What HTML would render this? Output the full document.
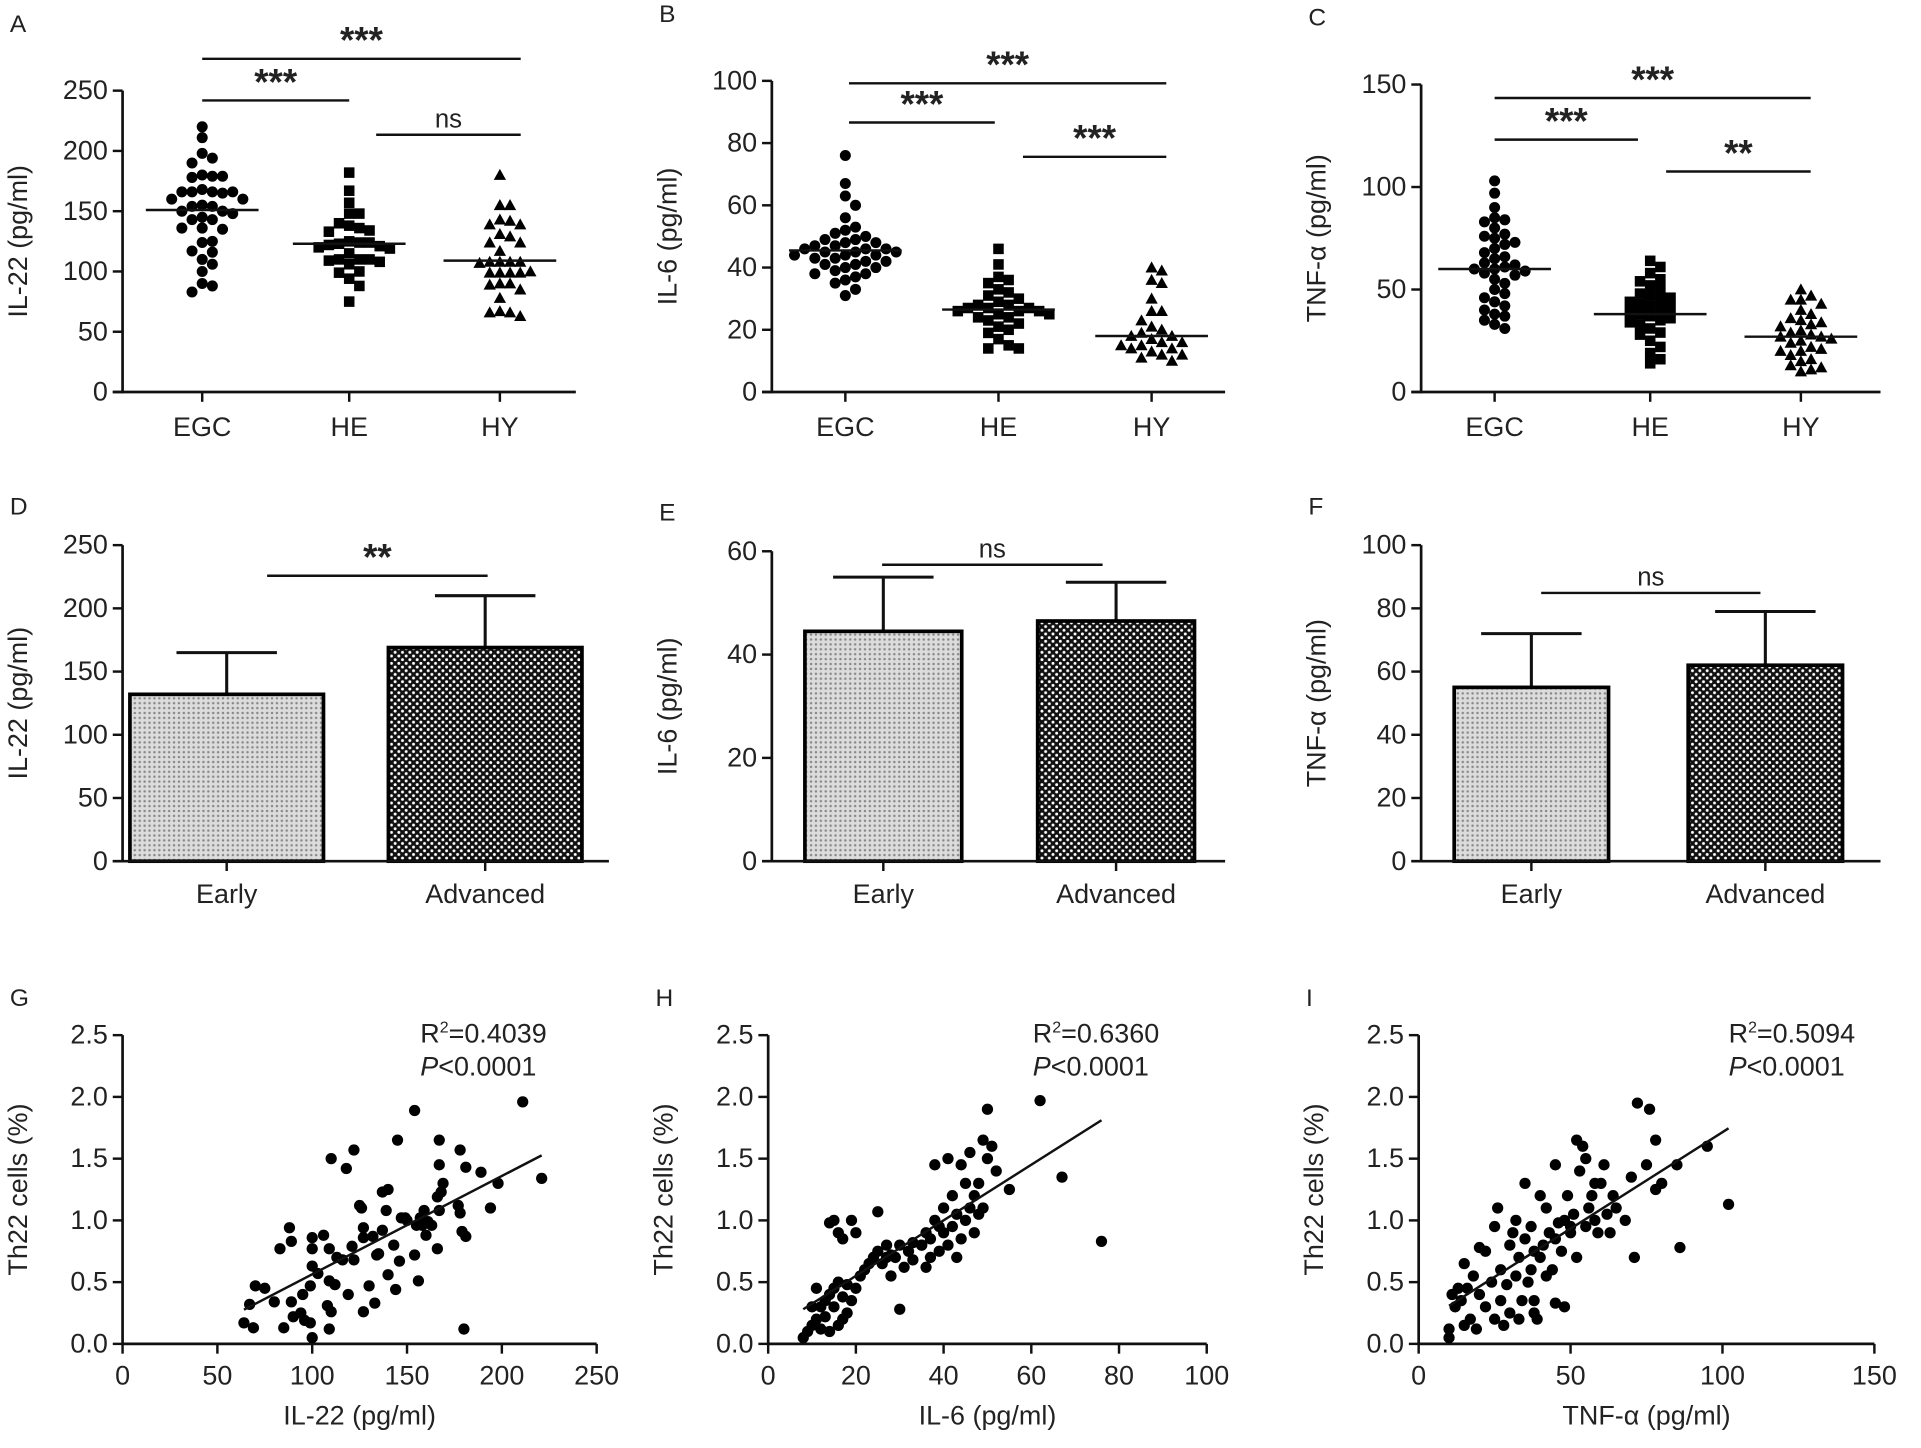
<!DOCTYPE html>
<html><head><meta charset="utf-8">
<style>
html,body{margin:0;padding:0;background:#fff;}
svg{display:block;}
text{font-family:"Liberation Sans",Arial,sans-serif;fill:#222;}
</style></head>
<body>
<svg id="fig" xmlns="http://www.w3.org/2000/svg" width="1921" height="1448" viewBox="0 0 1568 1182">
<defs>
<pattern id="patEarly" width="4" height="4" patternUnits="userSpaceOnUse">
<rect width="4" height="4" fill="#dcdcdc"/><circle cx="2" cy="2" r="1" fill="#888"/>
</pattern>
<pattern id="patAdv" width="6" height="6" patternUnits="userSpaceOnUse">
<rect width="6" height="6" fill="#111"/><circle cx="1.5" cy="1.5" r="1.2" fill="#fff"/><circle cx="4.5" cy="4.5" r="1.2" fill="#fff"/>
</pattern>
</defs>
</svg>
<script>
// ---------- Data: dot plots (A-C) ----------
const groupCats = ["EGC","HE","HY"];
const a_EGC = [220,211,198,194,190,180,179,178,179,168,166,166,165,166,166,160,160,155,154,154,150,150,148,145,143,143,136,135,136,124,125,117,116,110,106,100,90,88,83];
const a_HE = [182,167,157,148,148,140,138,136,134,133,125,124,123,124,122,121,120,119,115,110,110,110,109,108,106,100,99,94,88,75];
const a_HY = [180,155,155,143,142,139,139,131,129,124,124,117,108,108,108,108,107,100,99,99,99,99,90,90,89,85,78,67,66,66,63];
const a_median = [151,123,109];
const b_EGC = [76,67,63,60,56,53,52,51,50,49,49,48,48,47,47,46,46,46,45,45,45,44,44,44,43,43,42,42,41,41,40,40,39,38,38,37,36,35,33,31];
const b_HE = [46,41,37,36,35,33,32,31,30,29,28,28,27,27,27,26,26,26,25,25,24,24,23,22,21,20,19,17,15,14,14];
const b_HY = [40,39,36,35,30,26,26,23,21,20,19,18,18,17,16,16,15,15,14,14,13,12,12,11,10];
const b_median = [45.5,26.5,18];
const c_EGC = [103,97,90,85,84,83,80,77,76,75,73,72,70,68,66,65,63,62,61,60,60,59,58,57,55,53,50,48,46,44,42,40,38,37,35,33,31];
const c_HE = [64,61,58,55,54,52,50,48,47,46,45,44,43,42,41,40,39,38,37,36,35,34,33,31,29,28,25,22,19,16,14];
const c_HY = [50,47,45,45,43,40,38,36,35,34,33,32,30,29,28,27,27,26,25,24,22,21,20,20,18,16,15,13,12,11,10];
const c_median = [60,38,27];
const a_ticks = [0,50,100,150,200,250];
const b_ticks = [0,20,40,60,80,100];
const c_ticks = [0,50,100,150];

// ---------- Data: bar charts (D-F) ----------
const barCats = ["Early","Advanced"];
const d_means = [132,169];
const d_err = [33,41];
const e_means = [44.5,46.5];
const e_err = [10.5,7.5];
const f_means = [55,62];
const f_err = [17,17];
const d_ticks = [0,50,100,150,200,250];
const e_ticks = [0,20,40,60];
const f_ticks = [0,20,40,60,80,100];

// ---------- Data: scatter (G-I) ----------
const g_x = [64,69,70,75,67,80,83,88,89,85,89,90,94,95,96,99,100,100,100,100,99,103,106,109,108,109,110,109,110,112,113,116,118,119,121,122,122,125,126,127,127,130,127,132,133,134,135,137,139,140,140,143,144,145,146,147,149,150,154,154,155,156,157,159,160,163,166,166,167,167,168,169,167,177,178,178,179,180,181,181,189,194,198,211,221,137,158,161];
const g_y = [0.17,0.13,0.47,0.45,0.32,0.34,0.77,0.94,0.83,0.13,0.34,0.22,0.25,0.40,0.19,0.17,0.05,0.86,0.77,0.63,0.47,0.57,0.88,0.77,0.31,0.12,0.26,0.51,1.50,0.48,0.70,0.68,1.42,0.40,0.79,0.68,1.57,1.12,1.10,0.26,0.94,0.47,0.86,0.87,0.33,0.72,0.73,1.23,1.08,1.25,0.56,0.80,0.44,1.65,0.67,1.02,1.02,1.00,0.72,1.89,0.96,0.51,1.02,1.08,0.88,0.96,0.77,1.19,1.45,1.65,1.23,1.30,1.08,1.12,1.57,1.06,0.91,0.12,1.43,0.87,1.39,1.10,1.30,1.96,1.34,0.92,0.96,0.99];
const h_x = [8,9,10,11,12,12,13,13,14,14,15,15,16,16,17,17,18,14,15,16,17,19,20,21,22,23,24,25,25,26,27,27,28,29,30,30,31,32,33,35,36,37,37,38,38,39,39,40,40,41,41,42,42,43,43,44,44,45,45,46,46,47,47,48,48,49,49,50,50,51,52,55,62,67,76,35,36,33,28,20,19,18,10,11];
const h_y = [0.05,0.1,0.15,0.2,0.3,0.12,0.22,0.35,0.4,0.1,0.3,0.45,0.15,0.5,0.2,0.38,0.48,0.98,1.0,0.9,0.85,1.0,0.9,0.55,0.6,0.65,0.7,0.75,1.07,0.65,0.7,0.8,0.72,0.7,0.28,0.8,0.62,0.75,0.82,0.8,0.9,0.85,0.7,1.0,1.45,0.75,0.95,1.1,0.9,0.8,1.5,1.2,0.95,1.05,0.7,1.45,0.85,1.3,1.0,1.1,1.55,1.2,0.9,1.3,1.05,1.65,1.1,1.9,1.5,1.6,1.4,1.25,1.97,1.35,0.83,0.8,0.62,0.68,0.55,0.45,0.35,0.25,0.3,0.45];
const i_x = [10,10,11,12,13,14,15,15,16,17,18,19,20,20,22,22,24,25,25,26,27,27,28,29,30,30,31,32,32,33,33,34,35,35,36,37,37,38,38,39,40,40,41,42,42,43,44,45,45,46,47,48,48,49,50,51,52,52,53,54,55,55,56,57,58,59,60,61,62,63,64,65,68,70,71,72,75,76,78,78,80,86,85,95,102,38,45,50,58];
const i_y = [0.05,0.12,0.4,0.3,0.45,0.35,0.65,0.15,0.45,0.2,0.55,0.12,0.78,0.4,0.75,0.3,0.5,0.2,0.95,1.1,0.6,0.35,0.15,0.48,0.8,0.25,0.9,1.0,0.55,0.7,0.2,0.35,0.85,1.3,0.5,0.6,0.95,0.75,0.25,0.2,0.7,1.2,0.8,0.55,1.1,0.9,0.6,1.45,0.85,0.98,0.75,1.0,0.3,1.2,0.9,1.05,1.65,0.7,1.4,1.6,1.5,0.95,1.1,1.2,1.0,0.9,1.3,1.45,1.05,0.9,1.2,1.1,1.0,1.35,0.7,1.95,1.45,1.9,1.65,1.25,1.3,0.78,1.45,1.6,1.13,0.35,0.33,0.95,1.3];
const scat_yticks = ["0.0","0.5","1.0","1.5","2.0","2.5"];
const g_xticks = [0,50,100,150,200,250];
const h_xticks = [0,20,40,60,80,100];
const i_xticks = [0,50,100,150];

const NS="http://www.w3.org/2000/svg";
const svg=document.getElementById('fig');
function mk(tag,attrs,parent,txt){const e=document.createElementNS(NS,tag);for(const k in attrs)e.setAttribute(k,attrs[k]);if(txt!==undefined)e.textContent=txt;(parent||svg).appendChild(e);return e;}
function grp(name){const g=mk('g',{});


return g;}
function scale(d0,d1,r0,r1){return v=>r0+(v-d0)*(r1-r0)/(d1-d0);}

function yAxis(g,x,y0,y1,ticks,labels,ys,title,titleX){
  const ax=mk('line',{x1:x,y1:y0+1,x2:x,y2:y1,stroke:'#111','stroke-width':2.2},g);
  
  
  ticks.forEach((t,i)=>{const y=ys(t);
    mk('line',{x1:x-8,y1:y,x2:x,y2:y,stroke:'#111','stroke-width':2},g);
    const tl=mk('text',{x:x-12,y:y+7,'text-anchor':'end','font-size':22},g,labels[i]);
    
    
  });
  const cy=(y0+y1)/2;
  const tt=mk('text',{x:titleX,y:cy,'text-anchor':'middle','font-size':22,transform:`rotate(-90 ${titleX} ${cy})`},g,title);
  
  
}
function letter(g,ch,x,y){const t=mk('text',{x:x,y:y,'font-size':20},g,ch);
  
  }
function sig(g,x1,x2,y,txt,big){
  mk('line',{x1:x1,y1:y,x2:x2,y2:y,stroke:'#111','stroke-width':2},g);
  const t=mk('text',{x:(x1+x2)/2,y:big?y-5:y-6,'text-anchor':'middle','font-size':big?30:21,'font-weight':big?'bold':'normal'},g,txt);
  
  
}
function marker(g,shape,x,y){
  let e;
  if(shape==='circle') e=mk('circle',{cx:x,cy:y,r:4.5,fill:'#000'},g);
  else if(shape==='square') e=mk('rect',{x:x-4.3,y:y-4.3,width:8.6,height:8.6,fill:'#000'},g);
  else e=mk('polygon',{points:`${x},${y-5} ${x-5},${y+4} ${x+5},${y+4}`,fill:'#000'},g);
  
  
}

// ---------- Dot plot panels ----------
function dotPanel(cfg){
  const g=grp(cfg.name);
  const ys=scale(0,cfg.ticks[cfg.ticks.length-1],cfg.y0,cfg.y1);
  letter(g,cfg.letter,cfg.x-92,cfg.y1-48);
  yAxis(g,cfg.x,cfg.y0,cfg.y1,cfg.ticks,cfg.ticks.map(String),ys,cfg.title,cfg.x-78);
  mk('line',{x1:cfg.x-8,y1:cfg.y0,x2:cfg.xEnd,y2:cfg.y0,stroke:'#111','stroke-width':2.2},g);
  const shapes=['circle','square','triangle'];
  cfg.groups.forEach((vals,gi)=>{
    const cx=cfg.cx[gi];
    mk('line',{x1:cx,y1:cfg.y0,x2:cx,y2:cfg.y0+8,stroke:'#111','stroke-width':2},g);
    const tl=mk('text',{x:cx,y:cfg.y0+36,'text-anchor':'middle','font-size':22},g,groupCats[gi]);
    
    
    const placed=[];
    const order=[0,1,-1,2,-2,3,-3,4,-4,5,-5,6,-6];
    vals.forEach(v=>{
      const y=ys(v);
      let slot=0;
      for(const s of order){ if(!placed.some(p=>p.s===s&&Math.abs(p.y-y)<8)){slot=s;break;} }
      placed.push({s:slot,y:y});
      marker(g,shapes[gi],cx+slot*8.3,y);
    });
    const m=ys(cfg.median[gi]);
    const ml=mk('line',{x1:cx-46,y1:m,x2:cx+46,y2:m,stroke:'#111','stroke-width':2},g);
    
    
  });
  cfg.sigs.forEach(s=>sig(g,s[0],s[1],s[2],s[3],s[3]!=='ns'));
}
dotPanel({name:'panel-a',letter:'A',x:100,xEnd:470,y0:320,y1:74,ticks:a_ticks,title:'IL-22 (pg/ml)',cx:[165,285,408],groups:[a_EGC,a_HE,a_HY],median:a_median,
  sigs:[[165,425,48,'***'],[165,285,82,'***'],[307,425,110,'ns']]});
dotPanel({name:'panel-b',letter:'B',x:630,xEnd:1000,y0:320,y1:66,ticks:b_ticks,title:'IL-6 (pg/ml)',cx:[690,815,940],groups:[b_EGC,b_HE,b_HY],median:b_median,
  sigs:[[693,952,68,'***'],[693,812,100,'***'],[835,952,128,'***']]});
dotPanel({name:'panel-c',letter:'C',x:1160,xEnd:1535,y0:320,y1:69,ticks:c_ticks,title:'TNF-α (pg/ml)',cx:[1220,1347,1470],groups:[c_EGC,c_HE,c_HY],median:c_median,
  sigs:[[1220,1478,80,'***'],[1220,1337,114,'***'],[1360,1478,140,'**']]});

// ---------- Bar panels ----------
function barPanel(cfg){
  const g=grp(cfg.name);
  const ys=scale(0,cfg.ticks[cfg.ticks.length-1],cfg.y0,cfg.y1);
  letter(g,cfg.letter,cfg.x-92,cfg.y1-25);
  yAxis(g,cfg.x,cfg.y0,cfg.y1,cfg.ticks,cfg.ticks.map(String),ys,cfg.title,cfg.x-78);
  const pats=['url(#patEarly)','url(#patAdv)'];
  cfg.means.forEach((v,i)=>{
    const cx=cfg.cx[i], w=cfg.bw, top=ys(v), et=ys(v+cfg.err[i]);
    const el=mk('line',{x1:cx,y1:top,x2:cx,y2:et,stroke:'#111','stroke-width':2.5},g);
    
    
    mk('line',{x1:cx-41,y1:et,x2:cx+41,y2:et,stroke:'#111','stroke-width':2.5},g);
    const b=mk('rect',{x:cx-w/2,y:top,width:w,height:cfg.y0-top,fill:pats[i],stroke:'#000','stroke-width':3},g);
    
    
    mk('line',{x1:cx,y1:cfg.y0,x2:cx,y2:cfg.y0+8,stroke:'#111','stroke-width':2},g);
    const tl=mk('text',{x:cx,y:cfg.y0+34,'text-anchor':'middle','font-size':22},g,barCats[i]);
    
    
  });
  mk('line',{x1:cfg.x-8,y1:cfg.y0,x2:cfg.xEnd,y2:cfg.y0,stroke:'#111','stroke-width':2.2},g);
  sig(g,cfg.sig[0],cfg.sig[1],cfg.sig[2],cfg.sig[3],cfg.sig[3]!=='ns');
}
barPanel({name:'panel-d',letter:'D',x:100,xEnd:497,y0:703,y1:445,ticks:d_ticks,title:'IL-22 (pg/ml)',cx:[185,396],bw:158,means:d_means,err:d_err,sig:[218,398,470,'**']});
barPanel({name:'panel-e',letter:'E',x:630,xEnd:1000,y0:703,y1:450,ticks:e_ticks,title:'IL-6 (pg/ml)',cx:[721,911],bw:128,means:e_means,err:e_err,sig:[720,900,461,'ns']});
barPanel({name:'panel-f',letter:'F',x:1160,xEnd:1535,y0:703,y1:445,ticks:f_ticks,title:'TNF-α (pg/ml)',cx:[1250,1441],bw:126,means:f_means,err:f_err,sig:[1258,1437,484,'ns']});

// ---------- Scatter panels ----------
function scatPanel(cfg){
  const g=grp(cfg.name);
  const y0=1097,y1=845;
  const ys=scale(0,2.5,y0,y1);
  const xmax=cfg.xticks[cfg.xticks.length-1];
  const xs=scale(0,xmax,cfg.x,cfg.xEnd);
  letter(g,cfg.letter,cfg.x-92,y1-24);
  yAxis(g,cfg.x,y0,y1,scat_yticks.map(Number),scat_yticks,ys,'Th22 cells (%)',cfg.x-78);
  mk('line',{x1:cfg.x,y1:y0,x2:cfg.xEnd,y2:y0,stroke:'#111','stroke-width':2.2},g);
  cfg.xticks.forEach(t=>{const x=xs(t);
    mk('line',{x1:x,y1:y0,x2:x,y2:y0+8,stroke:'#111','stroke-width':2},g);
    const tl=mk('text',{x:x,y:y0+33,'text-anchor':'middle','font-size':22},g,String(t));
    
    
  });
  const xt=mk('text',{x:(cfg.x+cfg.xEnd)/2,y:y0+66,'text-anchor':'middle','font-size':22},g,cfg.xtitle);
  
  
  cfg.xv.forEach((v,i)=>{
    const c=mk('circle',{cx:xs(v),cy:ys(cfg.yv[i]),r:4.6,fill:'#000'},g);
    
    
  });
  const n=cfg.xv.length;let sx=0,sy=0,sxx=0,sxy=0;
  for(let i=0;i<n;i++){sx+=cfg.xv[i];sy+=cfg.yv[i];sxx+=cfg.xv[i]*cfg.xv[i];sxy+=cfg.xv[i]*cfg.yv[i];}
  const m=(n*sxy-sx*sy)/(n*sxx-sx*sx), b=(sy-m*sx)/n;
  const xa=Math.min(...cfg.xv), xb=Math.max(...cfg.xv);
  const rl=mk('line',{x1:xs(xa),y1:ys(m*xa+b),x2:xs(xb),y2:ys(m*xb+b),stroke:'#111','stroke-width':2},g);
  
  
  const r=mk('text',{x:cfg.tx,y:851,'font-size':22},g);
  
  
  r.appendChild(document.createTextNode('R'));
  mk('tspan',{dy:-8,'font-size':13},r,'2');
  mk('tspan',{dy:8},r,'='+cfg.r2);
  const p=mk('text',{x:cfg.tx,y:878,'font-size':22},g);
  
  
  mk('tspan',{'font-style':'italic'},p,'P');
  mk('tspan',{},p,'<0.0001');
}
scatPanel({name:'panel-g',letter:'G',x:100,xEnd:487,xticks:g_xticks,xtitle:'IL-22 (pg/ml)',xv:g_x,yv:g_y,tx:343,r2:'0.4039'});
scatPanel({name:'panel-h',letter:'H',x:627,xEnd:985,xticks:h_xticks,xtitle:'IL-6 (pg/ml)',xv:h_x,yv:h_y,tx:843,r2:'0.6360'});
scatPanel({name:'panel-i',letter:'I',x:1158,xEnd:1530,xticks:i_xticks,xtitle:'TNF-α (pg/ml)',xv:i_x,yv:i_y,tx:1411,r2:'0.5094'});
</script>
</body></html>
